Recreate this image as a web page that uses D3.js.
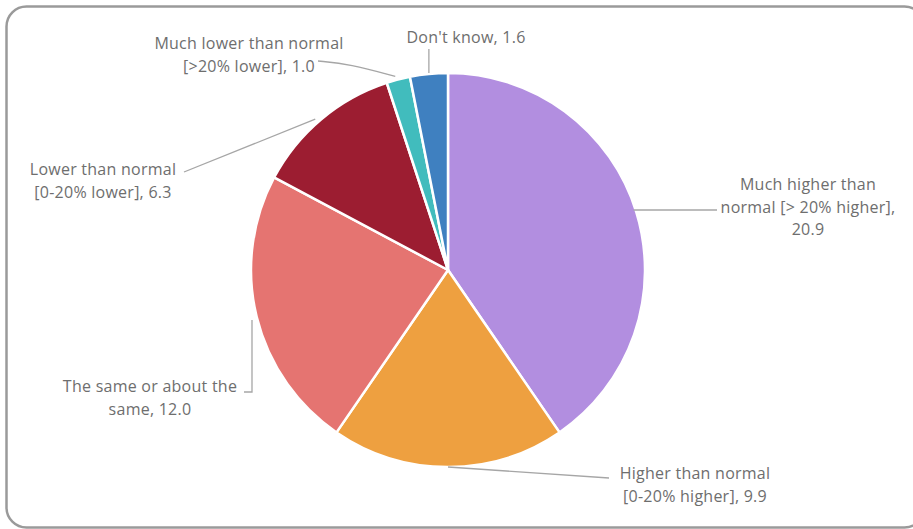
<!DOCTYPE html>
<html>
<head>
<meta charset="utf-8">
<script src="https://cdn.jsdelivr.net/npm/d3@7"></script>
<style>
  html, body { margin: 0; padding: 0; background: #ffffff; }
  svg { display: block; }
  text { font-family: "Open Sans", "Lato", sans-serif; fill: #6e6e6e; }
</style>
</head>
<body>
<svg id="chart" width="913" height="529"></svg>
<script>
// Responses, in drawing order clockwise from 12 o'clock
const categories = [
  "Much higher than normal [> 20% higher]",
  "Higher than normal [0-20% higher]",
  "The same or about the same",
  "Lower than normal [0-20% lower]",
  "Much lower than normal [>20% lower]",
  "Don't know"
];
const values = [20.9, 9.9, 12.0, 6.3, 1.0, 1.6];
const labelLines = [
  ["Much higher than", "normal [> 20% higher],", "20.9"],
  ["Higher than normal", "[0-20% higher], 9.9"],
  ["The same or about the", "same, 12.0"],
  ["Lower than normal", "[0-20% lower], 6.3"],
  ["Much lower than normal", "[>20% lower], 1.0"],
  ["Don't know, 1.6"]
];
const colors = ["#b28ee0", "#eea040", "#e57471", "#9c1d31", "#41bcbd", "#3f80c0"];

const width = 913, height = 529;
const cx = 448, cy = 270, radius = 197;

const svg = d3.select("#chart");

// outer frame
svg.append("rect")
  .attr("x", 6.5).attr("y", 6.5)
  .attr("width", 918).attr("height", 521)
  .attr("rx", 20).attr("ry", 20)
  .attr("fill", "#ffffff")
  .attr("stroke", "#9a9a9a")
  .attr("stroke-width", 2.5);

const pie = d3.pie().sort(null).value(d => d)
  .startAngle(0).endAngle(2 * Math.PI);
const arcs = pie(values);

const arc = d3.arc().innerRadius(0).outerRadius(radius);

const g = svg.append("g").attr("transform", `translate(${cx},${cy})`);

g.selectAll("path.slice")
  .data(arcs)
  .join("path")
  .attr("class", "slice")
  .attr("d", arc)
  .attr("fill", (d, i) => colors[i])
  .attr("stroke", "#ffffff")
  .attr("stroke-width", 2.5)
  .attr("stroke-linejoin", "round");

// point on the rim at the middle of a slice, in page coordinates
function rimPoint(i) {
  const a = arcs[i];
  const t = (a.startAngle + a.endAngle) / 2;
  return [cx + radius * Math.sin(t), cy - radius * Math.cos(t)];
}

// label placement: text centre x, first baseline y
const labelPos = [
  { x: 808, y: 190 },
  { x: 695, y: 479 },
  { x: 150, y: 392 },
  { x: 103, y: 175 },
  { x: 249, y: 49 },
  { x: 466, y: 43 }
];
const lineGap = 22.5;

// leader lines from each slice to its label
function leaderPoints(i) {
  if (i === 0) {
    const y = 210;
    const xr = cx + Math.sqrt(radius * radius - (y - cy) * (y - cy));
    return [[xr - 2, y], [717, y]];
  }
  if (i === 1) { const p = rimPoint(1); return [p, [609, 478]]; }
  if (i === 2) return [[252, 320], [252, 392], [244, 392]];
  if (i === 3) { const p = rimPoint(3); return [[p[0] - 6, p[1]], [184, 172]]; }
  if (i === 4) { const p = rimPoint(4); return [[p[0] - 3, p[1] - 3], [350, 64], [318, 61]]; }
  const p = rimPoint(5);
  return [[p[0], p[1] - 1], [p[0], 49]];
}

labelLines.forEach((_, i) => {
  const pts = leaderPoints(i);
  const gen = i === 4 ? d3.line().curve(d3.curveBasis) : d3.line();
  svg.append("path")
    .attr("d", gen(pts))
    .attr("fill", "none")
    .attr("stroke", "#a6a6a6")
    .attr("stroke-width", 1.3);
});

// data labels
labelLines.forEach((lines, i) => {
  const t = svg.append("text")
    .attr("text-anchor", "middle")
    .attr("font-size", 16)
    .attr("letter-spacing", 0.25);
  lines.forEach((s, k) => {
    t.append("tspan")
      .attr("x", labelPos[i].x)
      .attr("y", labelPos[i].y + k * lineGap)
      .text(s);
  });
});
</script>
</body>
</html>
